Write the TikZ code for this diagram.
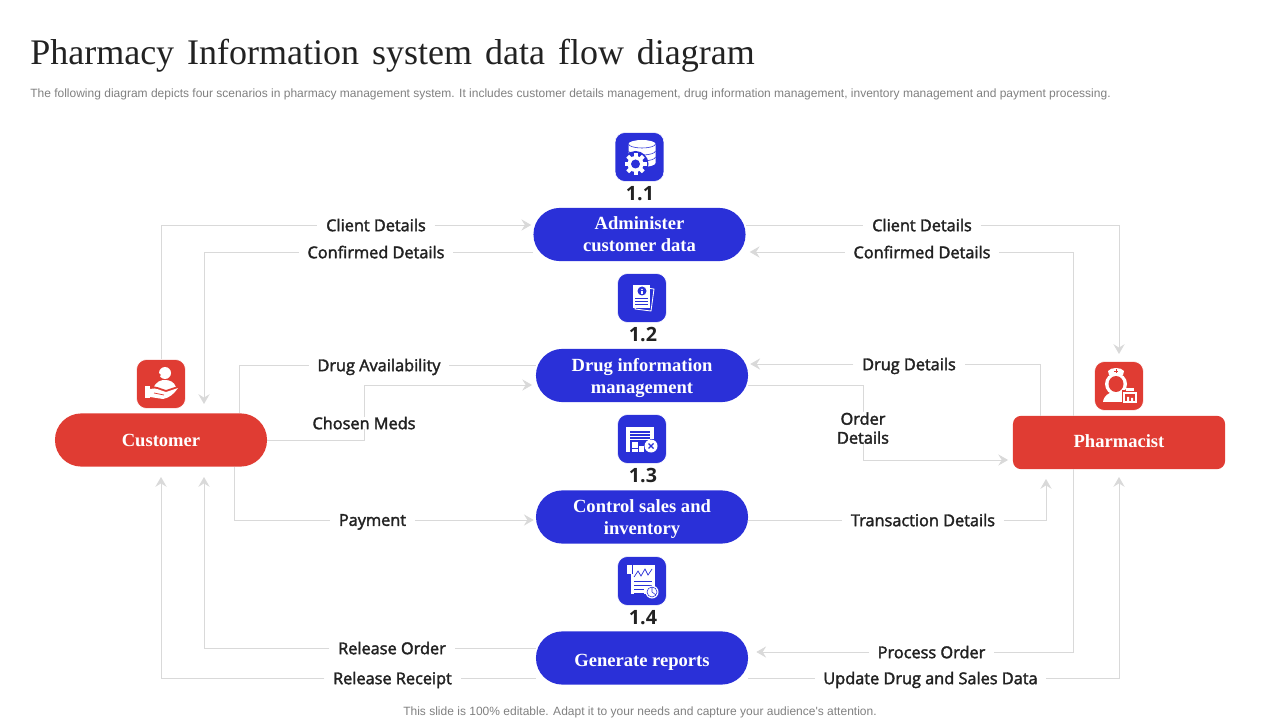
\documentclass[tikz,border=0pt]{standalone}
\usepackage{fontspec}
\setmainfont{Liberation Serif}
\newfontfamily\subfont{Liberation Sans}
\newfontfamily\lblfont[FakeBold=2.2]{Open Sans}
\newfontfamily\numfont{Open Sans}
\usetikzlibrary{arrows.meta}
\definecolor{boxblue}{HTML}{2A30D8}
\definecolor{boxred}{HTML}{E03C33}
\definecolor{linegray}{HTML}{D9D9D9}
\definecolor{inkdark}{HTML}{222222}
\definecolor{subgray}{HTML}{808080}
\def\titlegap{\hskip 0.36em\relax}
\tikzset{
	flow/.style={draw=linegray, line width=0.55pt},
	flowarrow/.style={flow, -{Stealth[inset=2.5pt,length=7pt,width=8pt]}, shorten >=1.4pt},
	lbl/.style={font=\lblfont\fontsize{11.6}{13.5}\selectfont, text=inkdark, inner xsep=6pt, inner ysep=0pt, align=center, text depth=0pt},
	pill/.style={rectangle, rounded corners=0.66cm, minimum width=5.3cm, minimum height=1.33cm, text=white, align=center, font=\bfseries\fontsize{13.2}{15.6}\selectfont},
	iconbox/.style={rectangle, rounded corners=0.24cm, minimum size=1.22cm, draw=white},
	numlbl/.style={font=\numfont\bfseries\fontsize{14}{16}\selectfont, text=inkdark, inner sep=0pt},
	px/.style={x=0.025cm, y=-0.025cm},
	white line/.style={draw=white, line width=0.6pt}
}
\begin{document}
\begin{tikzpicture}[px]
	% page frame keeps the proportions of the slide
	\useasboundingbox (0, 0) rectangle (1280, 720);

	% heading, sub heading and the footer line
	\node[anchor=west, inner sep=0pt, text=inkdark, font=\fontsize{25.6}{30}\selectfont] (title) at (30, 56) {Pharmacy\titlegap Information\titlegap system\titlegap data\titlegap flow\titlegap diagram};
	\node[anchor=west, inner sep=0pt, text=subgray, font=\subfont\fontsize{8.54}{10}\selectfont] (subtitle) at (30, 94.5) {The following diagram depicts four scenarios in pharmacy management system. It includes customer details management, drug information management, inventory management and payment processing.};
	\node[inner sep=0pt, text=subgray, font=\subfont\fontsize{8.54}{10}\selectfont] (footer) at (640, 712.5) {This slide is 100\% editable. Adapt it to your needs and capture your audience's attention.};

	% the four process boxes in the middle
	\node[pill, fill=boxblue, text depth=0pt] (admin) at (639.5, 234.5) {Administer\\customer data};
	\node[pill, fill=boxblue, text depth=0pt] (drug) at (642, 375.5) {Drug information\\management};
	\node[pill, fill=boxblue, text depth=0pt] (control) at (642, 517) {Control sales and\\inventory};
	\node[pill, fill=boxblue, text depth=0pt] (reports) at (642, 658) {\raisebox{-1.4pt}[\height][\depth]{Generate reports}};

	% the two outer boxes
	\node[pill, fill=boxred] (customer) at (161, 440) {Customer};
	\node[pill, fill=boxred, rounded corners=0.2cm, text depth=1.4pt] (pharmacist) at (1119, 442.5) {Pharmacist};

	% icon tiles and numbers
	\node[iconbox, fill=boxblue] (icondb) at (639.5, 157) {};
	\node[iconbox, fill=boxblue] (icondoc) at (642, 298) {};
	\node[iconbox, fill=boxblue] (iconstore) at (642, 439) {};
	\node[iconbox, fill=boxblue] (iconscroll) at (642, 581) {};
	\node[iconbox, fill=boxred] (iconcustomer) at (161, 384) {};
	\node[iconbox, fill=boxred] (iconpharmacist) at (1119, 386) {};
	\node[numlbl] (numone) at (640, 194) {1.1};
	\node[numlbl] (numtwo) at (643, 335) {1.2};
	\node[numlbl] (numthree) at (643, 476) {1.3};
	\node[numlbl] (numfour) at (643, 618) {1.4};

	% labels on the left half
	\node[lbl] (clientl) at (376, 225) {Client Details};
	\node[lbl] (confirml) at (376, 252) {Confirmed Details};
	\node[lbl] (avail) at (379, 365) {Drug Availability};
	\node[lbl] (meds) at (364, 423) {Chosen Meds};
	\node[lbl] (payment) at (372.5, 520) {Payment};
	\node[lbl] (relorder) at (392, 648) {Release Order};
	\node[lbl] (relreceipt) at (392.5, 678) {Release Receipt};

	% labels on the right half
	\node[lbl] (clientr) at (922, 225) {Client Details};
	\node[lbl] (confirmr) at (922, 252) {Confirmed Details};
	\node[lbl] (details) at (909, 364) {Drug Details};
	\node[lbl] (order) at (863, 428) {Order\\Details};
	\node[lbl] (transaction) at (923, 520) {Transaction Details};
	\node[lbl] (process) at (931.5, 652) {Process Order};
	\node[lbl] (update) at (930.5, 678) {Update Drug and Sales Data};

	% free ends of the connectors at the outer boxes
	\coordinate (custconfirm) at (204, 404);
	\coordinate (custavail) at (239, 413);
	\coordinate (custpay) at (234, 467);
	\coordinate (custorder) at (204, 477);
	\coordinate (custreceipt) at (161, 477);
	\coordinate (pharmclient) at (1119, 354);
	\coordinate (pharmconfirm) at (1073, 416);
	\coordinate (pharmdetails) at (1040, 416);
	\coordinate (pharmtrans) at (1046, 479);
	\coordinate (pharmprocess) at (1073, 469);
	\coordinate (pharmupdate) at (1119, 477);
	\coordinate (drugleft) at (536, 385);
	\coordinate (drugright) at (748, 385);
	\coordinate (pharmleft) at (1013, 460);

	% connectors, left half
	\draw[flow] (iconcustomer.north) |- (clientl.west);
	\draw[flowarrow] (clientl.east) -- (admin.west |- clientl);
	\draw[flow] (admin.west |- confirml) -- (confirml.east);
	\draw[flowarrow, shorten >=0pt] (confirml.west) -| (custconfirm);
	\draw[flow] (custavail) |- (avail.west);
	\draw[flow] (avail.east) -- (drug.west |- avail);
	\draw[flow] (customer.east) -| (meds.south);
	\draw[flowarrow, shorten >=2.8pt] (meds.north) |- (drugleft);
	\draw[flow] (custpay) |- (payment.west);
	\draw[flowarrow] (payment.east) -- (control.west |- payment);
	\draw[flow] (reports.west |- relorder) -- (relorder.east);
	\draw[flowarrow, shorten >=0pt] (relorder.west) -| (custorder);
	\draw[flow] (reports.west |- relreceipt) -- (relreceipt.east);
	\draw[flowarrow, shorten >=0pt] (relreceipt.west) -| (custreceipt);

	% connectors, right half
	\draw[flow] (admin.east |- clientr) -- (clientr.west);
	\draw[flowarrow, shorten >=0pt] (clientr.east) -| (pharmclient);
	\draw[flow] (pharmconfirm) |- (confirmr.east);
	\draw[flowarrow, shorten >=2.8pt] (confirmr.west) -- (admin.east |- confirmr);
	\draw[flow] (pharmdetails) |- (details.east);
	\draw[flowarrow] (details.west) -- (drug.east |- details);
	\draw[flow] (drugright) -| (order.north);
	\draw[flowarrow, shorten >=3.5pt] (order.south) |- (pharmleft);
	\draw[flow] (control.east |- transaction) -- (transaction.west);
	\draw[flowarrow, shorten >=0pt] (transaction.east) -| (pharmtrans);
	\draw[flow] (pharmprocess) |- (process.east);
	\draw[flowarrow, shorten >=5.7pt] (process.west) -- (reports.east |- process);
	\draw[flow] (reports.east |- update) -- (update.west);
	\draw[flowarrow, shorten >=0pt] (update.east) -| (pharmupdate);

	% database with a gear
	\begin{scope}[shift={(icondb)}]
		\fill[white] (-11, -13) -- (-11, 6) arc (180:0:13.5 and 4) -- (16, -13) arc (0:-180:13.5 and 4) -- cycle;
		\draw[boxblue, line width=0.4pt] (-11, -13) arc (180:0:13.5 and 4);
		\draw[boxblue, line width=0.4pt] (-11, -6) arc (180:0:13.5 and 4);
		\draw[boxblue, line width=0.4pt] (-11, 0) arc (180:0:13.5 and 4);
		\fill[boxblue] (-4, 7) circle (13);
		\foreach \a in {0, 45, ..., 315} {
			\fill[white, rotate around={\a:(-4, 7)}] (-6, -4) rectangle (-2, 1);
		}
		\fill[white] (-4, 7) circle (8);
		\fill[boxblue] (-4, 7) circle (4.5);
	\end{scope}

	% papers with an info mark
	\begin{scope}[shift={(icondoc)}]
		\draw[white line, fill=boxblue] (-4, -11) -- (12, -9) -- (9, 13) -- (-7, 11) -- cycle;
		\fill[white] (-9, -13) rectangle (8, 10);
		\fill[boxblue] (0, -7) circle (4.5);
		\fill[white] (-0.7, -6.5) rectangle (0.7, -3.5);
		\fill[white] (0, -8.5) circle (0.9);
		\foreach \y in {0, 3, 6} {
			\draw[boxblue, line width=0.4pt] (-7, \y) -- (6, \y);
		}
	\end{scope}

	% store front with boxes and a cross
	\begin{scope}[shift={(iconstore)}]
		\fill[white] (-16, -12) rectangle (12, -8);
		\fill[white] (-16, -8) rectangle (-12, 13);
		\fill[white] (8, -8) rectangle (12, 0);
		\foreach \y in {-6, -3, 0} {
			\draw[white, line width=0.7pt] (-12, \y) -- (8, \y);
		}
		\fill[white] (-10, 3) rectangle (-4, 9);
		\fill[white] (-10, 9.5) rectangle (-4, 13);
		\fill[white] (-3, 7) rectangle (2, 13);
		\fill[white] (9, 7) circle (6.5);
		\draw[boxblue, line width=0.8pt] (6.5, 4.5) -- (11.5, 9.5) (6.5, 9.5) -- (11.5, 4.5);
	\end{scope}

	% scroll with a chart
	\begin{scope}[shift={(iconscroll)}]
		\fill[white] (-15, -16) rectangle (-10, -7);
		\fill[white] (-11, -16) rectangle (13, 13);
		\draw[boxblue, line width=0.4pt] (-10, -7) -- (-10, -16);
		\draw[boxblue, line width=0.5pt] (-8, -4) -- (-4, -10) -- (-1, -5) -- (3, -12) -- (6, -6) -- (10, -12);
		\foreach \y in {0, 4} {
			\draw[boxblue, line width=0.4pt] (-8, \y) -- (10, \y);
		}
		\draw[boxblue, line width=0.4pt] (-8, 8) -- (2, 8) (-8, 12) -- (2, 12);
		\fill[white] (10, 11) circle (6.5);
		\draw[boxblue, line width=0.4pt] (10, 11) circle (5) (10, 11) -- (10, 6) (10, 11) -- (14, 14);
	\end{scope}

	% customer held in a hand
	\begin{scope}[shift={(iconcustomer)}]
		\fill[white] (4, -11) circle (6);
		\fill[white] (-8, 5) .. controls (-5, -3) and (0, -4) .. (4, -4) .. controls (9, -4) and (13, -2) .. (15, 3) -- (6, 7) -- cycle;
		\fill[boxred] (-2, -9) circle (1.8);
		\fill[white] (-16, 2) rectangle (-11, 14);
		\fill[boxred] (-11, 3) .. controls (-5, 1) and (0, 5) .. (5, 6) -- (17, 2) -- (17, 4) -- (5, 8) -- (-11, 5) -- cycle;
		\fill[white] (-11, 5) .. controls (-5, 3) and (0, 7) .. (5, 8) -- (17, 4) .. controls (13, 10) and (8, 14) .. (2, 15) -- (-11, 13) -- cycle;
		\draw[boxred, line width=0.5pt] (-7, 9) -- (3, 11);
	\end{scope}

	% nurse with a bottle
	\begin{scope}[shift={(iconpharmacist)}]
		\fill[white] (-11, -15) .. controls (-8, -19) and (2, -19) .. (5, -15) -- (4, -11) -- (-10, -11) -- cycle;
		\draw[boxred, line width=0.6pt] (-5, -15) -- (-1, -15) (-3, -17) -- (-3, -13);
		\fill[white] (-3, -2) ellipse (11 and 11);
		\fill[boxred] (-3, -2) ellipse (7.5 and 8);
		\fill[white] (-16, 16) .. controls (-15, 9) and (-10, 7) .. (-6, 6) -- (-3, 9) -- (0, 6) .. controls (3, 7) and (5, 8) .. (7, 10) -- (7, 16) -- cycle;
		\fill[boxred] (3, 4) rectangle (15, 17);
		\fill[white] (7, 2) rectangle (15, 5);
		\draw[white, line width=1pt] (5, 7) rectangle (17, 16);
		\fill[white] (8, 11) rectangle (10, 15) (12, 12) rectangle (14, 15);
	\end{scope}
\end{tikzpicture}
\end{document}
